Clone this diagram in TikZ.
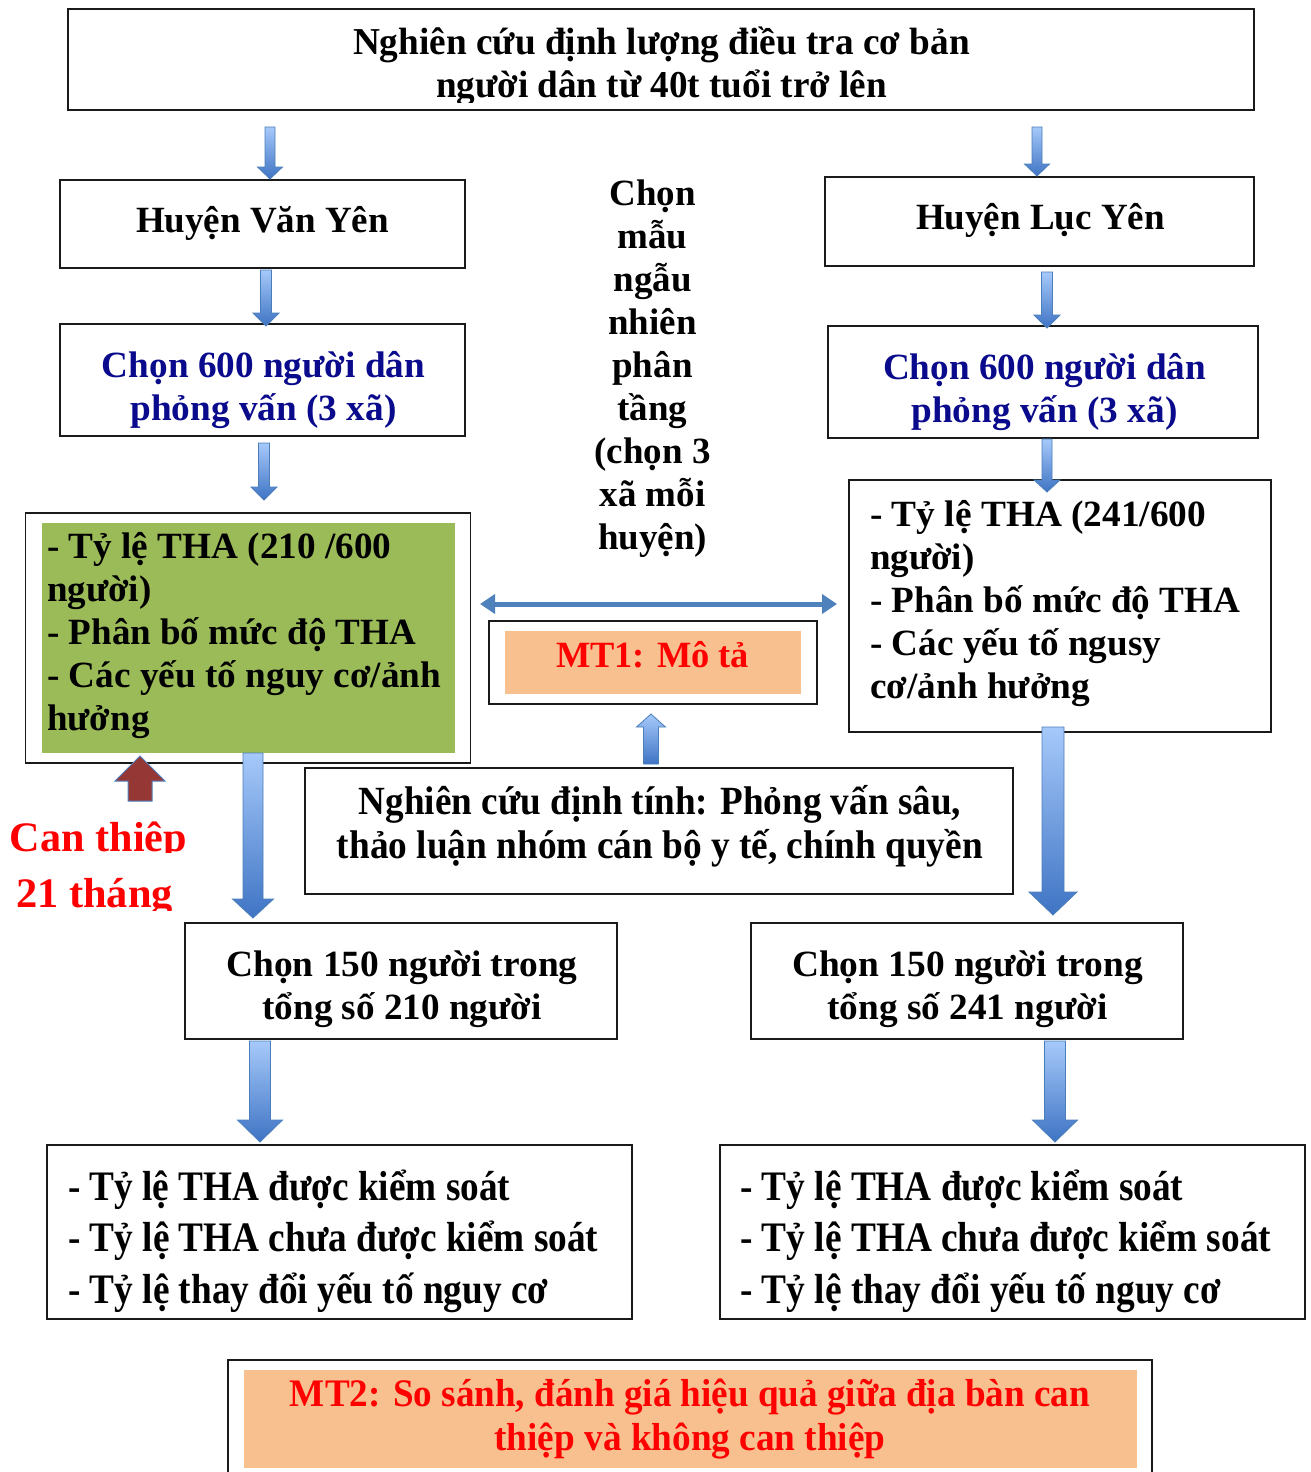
\documentclass[tikz,border=0pt]{standalone}
\usepackage{fontspec}
\setmainfont{Liberation Serif}
\usepackage{graphicx}
\usetikzlibrary{calc,arrows.meta}

\definecolor{boxline}{HTML}{1A1A1A}
\definecolor{navy}{RGB}{10,10,140}
\definecolor{leaf}{HTML}{9BBB59}
\definecolor{peach}{HTML}{F8C08F}
\definecolor{arrowedge}{HTML}{4A7EBB}
\definecolor{arrowtop}{HTML}{A6C9FA}
\definecolor{arrowbot}{HTML}{3F74C4}
\definecolor{maroon}{HTML}{953735}
\definecolor{linkblue}{HTML}{4F81BD}
\definecolor{alert}{HTML}{FF0000}

% line strut and horizontal fitting of a line to a given width
\newcommand\st{\rule[-0.25em]{0pt}{1.05em}}
\newcommand\fw[2]{\resizebox{#1pt}{\height}{\st #2}}

% block arrow: style, from, to, shaft half width, head half width, head length
\newcommand\blockarrow[6]{%
  \coordinate (ba-h) at ($(#3)!#6pt!(#2)$);
  \path[#1] ($(#2)!#4pt!90:(#3)$) -- ($(ba-h)!#4pt!90:(#3)$)
    -- ($(ba-h)!#5pt!90:(#3)$) -- (#3) -- ($(ba-h)!#5pt!-90:(#3)$)
    -- ($(ba-h)!#4pt!-90:(#3)$) -- ($(#2)!#4pt!-90:(#3)$) -- cycle;}

\begin{document}
\begin{tikzpicture}[x=1pt,y=-1pt,
  box/.style={draw=boxline, line width=1.5pt, fill=white, inner sep=0pt},
  panel/.style={inner sep=0pt, outer sep=0pt},
  txt/.style={inner sep=0pt, align=center, yshift=-2.5pt},
  ltxt/.style={inner sep=0pt, align=left, anchor=west, yshift=-2.5pt},
  main/.style={font=\fontsize{37}{43}\selectfont\bfseries},
  arrowfill/.style={top color=arrowtop, bottom color=arrowbot, draw=arrowedge, line width=0.8pt},
  redarrow/.style={fill=maroon, draw=linkblue, line width=1pt}]

\clip (0,0) rectangle (1311,1472);
\fill[white] (0,0) rectangle (1311,1472);

% ---- top box
\node[box, minimum width=1186, minimum height=101] (topbox) at (661,59.5) {};
\begin{scope}
  \clip (68,9) rectangle (1254,102);
  \node[txt, font=\fontsize{38}{43}\selectfont\bfseries] (toptext) at (661.5,63.5)
    {\fw{617}{Nghiên cứu định lượng điều tra cơ bản}\\ \fw{451}{người dân từ 40t tuổi trở lên}};
\end{scope}

% ---- districts
\node[box, minimum width=405, minimum height=88] (vanyen) at (262.5,224) {};
\node[txt, main] (vanyentext) at (262.5,220) {\fw{253}{Huyện Văn Yên}};
\node[box, minimum width=429, minimum height=89] (lucyen) at (1039.5,221.5) {};
\node[txt, main] (lucyentext) at (1040.5,217) {\fw{249}{Huyện Lục Yên}};

% ---- sampling boxes
\node[box, minimum width=405, minimum height=112] (chonL) at (262.5,380) {};
\node[txt, main, text=navy] (chonLtext) at (263.5,386.5)
  {\fw{323}{Chọn 600 người dân}\\ \fw{266}{phỏng vấn (3 xã)}};
\node[box, minimum width=430, minimum height=112] (chonR) at (1043,382) {};
\node[txt, main, text=navy] (chonRtext) at (1044.5,388.5)
  {\fw{323}{Chọn 600 người dân}\\ \fw{266}{phỏng vấn (3 xã)}};

% ---- middle column
\node[txt, main] (method) at (652.5,364.5)
  {\st Chọn\\ \st mẫu\\ \st ngẫu\\ \st nhiên\\ \st phân\\ \st tầng\\ \st (chọn 3\\ \st xã mỗi\\ \st huyện)};

% ---- results, first survey
\node[box, minimum width=445, minimum height=250] (resL) at (248,638) {};
\node[panel, fill=leaf, minimum width=413, minimum height=230] (resLpanel) at (248.5,638) {};
\node[ltxt, main] (resLtext) at (47,632)
  {\fw{344}{- Tỷ lệ THA (210 /600}\\ \st người)\\ \fw{369}{- Phân bố mức độ THA}\\
   \fw{394}{- Các yếu tố nguy cơ/ảnh}\\ \st hưởng};
\node[box, minimum width=422, minimum height=252] (resR) at (1060,606) {};
\node[ltxt, main] (resRtext) at (870,599.5)
  {\fw{336}{- Tỷ lệ THA (241/600}\\ \st người)\\ \fw{370}{- Phân bố mức độ THA}\\
   \fw{291}{- Các yếu tố ngusy}\\ \fw{220}{cơ/ảnh hưởng}};

% ---- objective 1
\node[box, minimum width=328, minimum height=83] (mt1) at (653,662.5) {};
\node[panel, fill=peach, minimum width=296, minimum height=63] (mt1panel) at (653,662.5) {};
\node[txt, main, text=alert] (mt1text) at (652.5,655) {\fw{193}{MT1: Mô tả}};

% ---- qualitative study
\node[box, minimum width=708, minimum height=126] (qual) at (659,831) {};
\node[txt, font=\fontsize{40}{44}\selectfont\bfseries] (qualtext) at (660,823)
  {\fw{602}{Nghiên cứu định tính: Phỏng vấn sâu,}\\ \fw{646}{thảo luận nhóm cán bộ y tế, chính quyền}};

% ---- intervention label (each line in its own clipped frame)
\begin{scope}
  \clip (0,800) rectangle (300,852);
  \node[txt, font=\fontsize{42}{56}\selectfont\bfseries, text=alert] (canthiep) at (98.5,837)
    {\fw{177}{Can thiệp}};
\end{scope}
\begin{scope}
  \clip (0,858) rectangle (300,910);
  \node[txt, font=\fontsize{42}{56}\selectfont\bfseries, text=alert] (months) at (94.5,893)
    {\fw{157}{21 tháng}};
\end{scope}

% ---- follow-up samples
\node[box, minimum width=432, minimum height=116] (subL) at (401,981) {};
\node[txt, main] (subLtext) at (402,985)
  {\fw{351}{Chọn 150 người trong}\\ \fw{279}{tổng số 210 người}};
\node[box, minimum width=432, minimum height=116] (subR) at (967,981) {};
\node[txt, main] (subRtext) at (967.5,985)
  {\fw{351}{Chọn 150 người trong}\\ \fw{280}{tổng số 241 người}};

% ---- outcome lists
\node[box, minimum width=585, minimum height=174] (outL) at (339.5,1232) {};
\node[ltxt, font=\fontsize{42}{51.5}\selectfont\bfseries] (outLtext) at (68,1237.5)
  {\fw{442}{- Tỷ lệ THA được kiểm soát}\\ \fw{530}{- Tỷ lệ THA chưa được kiểm soát}\\ \fw{480}{- Tỷ lệ thay đổi yếu tố nguy cơ}};
\node[box, minimum width=585, minimum height=174] (outR) at (1012.5,1232) {};
\node[ltxt, font=\fontsize{42}{51.5}\selectfont\bfseries] (outRtext) at (740,1237.5)
  {\fw{443}{- Tỷ lệ THA được kiểm soát}\\ \fw{531}{- Tỷ lệ THA chưa được kiểm soát}\\ \fw{481}{- Tỷ lệ thay đổi yếu tố nguy cơ}};

% ---- objective 2
\node[box, minimum width=924, minimum height=130] (mt2) at (690,1425) {};
\node[panel, fill=peach, minimum width=893, minimum height=98] (mt2panel) at (690.5,1419) {};
\node[txt, font=\fontsize{39}{44}\selectfont\bfseries, text=alert] (mt2text) at (690,1415)
  {\fw{800}{MT2: So sánh, đánh giá hiệu quả giữa địa bàn can}\\ \fw{391}{thiệp và không can thiệp}};

% ---- arrow end points
\coordinate (a1s) at (270,127);   \coordinate (a1e) at (270,179);
\coordinate (a2s) at (1037,127);  \coordinate (a2e) at (1037,176);
\coordinate (a3s) at (266,270);   \coordinate (a3e) at (266,326);
\coordinate (a4s) at (1047,272);  \coordinate (a4e) at (1047,328);
\coordinate (a5s) at (264,443);   \coordinate (a5e) at (264,500);
\coordinate (a6s) at (1047,439);  \coordinate (a6e) at (1047,492);
\coordinate (a7s) at (253,753);   \coordinate (a7e) at (253,918);
\coordinate (a8s) at (1053,727);  \coordinate (a8e) at (1053,915);
\coordinate (a9s) at (260,1041);  \coordinate (a9e) at (260,1142);
\coordinate (a10s) at (1055,1041); \coordinate (a10e) at (1055,1142);
\coordinate (a11s) at (651,764);  \coordinate (a11e) at (651,714);
\coordinate (ivs) at (140,801);   \coordinate (ive) at (140,756);
\coordinate (dl) at (480,604);    \coordinate (dr) at (837,604);

% ---- block arrows
\blockarrow{arrowfill}{a1s}{a1e}{5}{12.5}{12}
\blockarrow{arrowfill}{a2s}{a2e}{5}{12.5}{12}
\blockarrow{arrowfill}{a3s}{a3e}{5.5}{13}{13}
\blockarrow{arrowfill}{a4s}{a4e}{5.5}{13}{13}
\blockarrow{arrowfill}{a5s}{a5e}{5.5}{13}{13}
\blockarrow{arrowfill}{a6s}{a6e}{5}{13}{12}
\blockarrow{arrowfill}{a7s}{a7e}{10}{20.5}{19}
\blockarrow{arrowfill}{a8s}{a8e}{11}{24}{23}
\blockarrow{arrowfill}{a9s}{a9e}{10.5}{22.5}{22}
\blockarrow{arrowfill}{a10s}{a10e}{10.5}{22.5}{22}
\blockarrow{arrowfill}{a11s}{a11e}{7.5}{14.5}{13}
\blockarrow{redarrow}{ivs}{ive}{12}{25}{25}

% ---- two-way link between the districts
\draw[linkblue, line width=5pt,
  {Triangle[length=15pt,width=19pt]}-{Triangle[length=15pt,width=19pt]}] (dl) -- (dr);

\end{tikzpicture}
\end{document}
